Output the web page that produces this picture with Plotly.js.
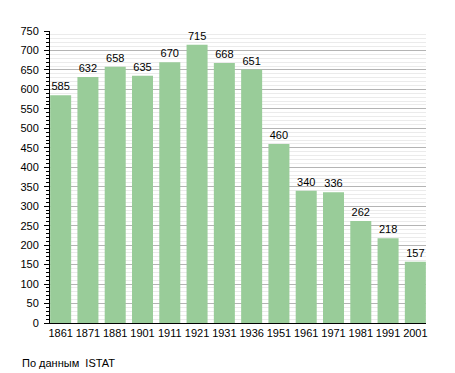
<!DOCTYPE html>
<html>
<head>
<meta charset="utf-8">
<script src="https://cdn.plot.ly/plotly-3.0.1.min.js"></script>
<style>html,body{margin:0;padding:0;background:#fff}#chart{width:455px;height:373px}</style>
</head>
<body>
<div id="chart"></div>
<script>
const years = ["1861","1871","1881","1901","1911","1921","1931","1936","1951","1961","1971","1981","1991","2001"];
const population = [585, 632, 658, 635, 670, 715, 668, 651, 460, 340, 336, 262, 218, 157];
const yTickVals = [0,50,100,150,200,250,300,350,400,450,500,550,600,650,700,750];
const sourceNote = "По данным  ISTAT";

const font = "Liberation Sans, Arial, sans-serif";
const trace = {
  type: "bar",
  x: years,
  y: population,
  text: population.map(String),
  textposition: "outside",
  cliponaxis: false,
  textfont: {family: font, size: 11, color: "#000"},
  marker: {color: "#99cc99", line: {width: 0}},
  hoverinfo: "none"
};
const layout = {
  width: 455, height: 373,
  margin: {l: 50, r: 29, t: 31, b: 50},
  paper_bgcolor: "#fff", plot_bgcolor: "#fff",
  bargap: 0.23,
  showlegend: false,
  font: {family: font, size: 11, color: "#000"},
  xaxis: {
    type: "category",
    range: [-0.39, 13.39],
    showgrid: false,
    showline: true, linecolor: "#000", linewidth: 1,
    ticks: "", tickfont: {family: font, size: 11, color: "#000"},
    fixedrange: true
  },
  yaxis: {
    range: [0, 750],
    tickvals: yTickVals,
    showgrid: true, gridcolor: "#b4b4b4", gridwidth: 1,
    showline: true, linecolor: "#000", linewidth: 1,
    ticks: "outside", ticklen: 5, tickcolor: "#000", tickwidth: 1,
    ticklabelstandoff: 3,
    tickfont: {family: font, size: 11, color: "#000"},
    zeroline: false,
    minor: {dtick: 10, showgrid: true, gridcolor: "#ebebeb", gridwidth: 1, ticks: "outside", ticklen: 3, tickcolor: "#000"},
    fixedrange: true
  },
  annotations: [{
    text: sourceNote, xref: "paper", yref: "paper", x: -0.08, y: -0.11,
    xanchor: "left", yanchor: "top", showarrow: false,
    font: {family: font, size: 11, color: "#000"}
  }]
};
Plotly.newPlot("chart", [trace], layout, {displayModeBar: false, staticPlot: true});
</script>
</body>
</html>
